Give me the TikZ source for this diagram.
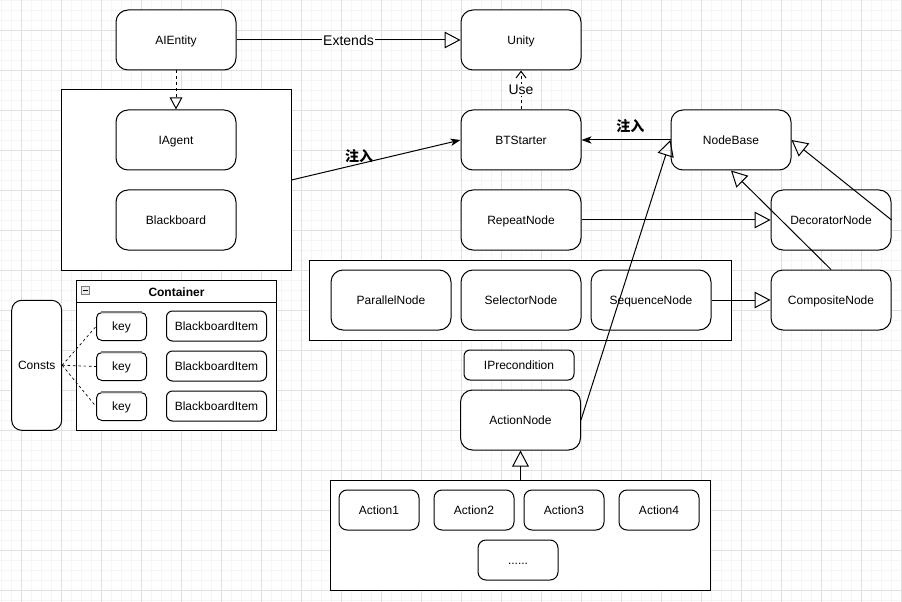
\documentclass[tikz,border=0pt]{standalone}
\usepackage{fontspec}
\setmainfont{Liberation Sans}
\newfontfamily\cjk{Noto Sans CJK SC}
\usetikzlibrary{arrows.meta}
\definecolor{gridminor}{HTML}{F5F5F5}
\definecolor{gridmajor}{HTML}{E0E0E0}
\begin{document}
\begin{tikzpicture}[x=0.75pt,y=-0.75pt,line width=0.75pt,
  every node/.style={font=\fontsize{9pt}{11pt}\selectfont},
  boxtext/.style={text height=6.5pt,text depth=0pt},
  box/.style={draw,fill=white,rounded corners=9pt,minimum width=90pt,minimum height=45pt,inner sep=0pt,boxtext},
  actbox/.style={draw,fill=white,rounded corners=6pt,minimum width=60pt,minimum height=30pt,inner sep=0pt,boxtext},
  itembox/.style={draw,fill=white,rounded corners=4.5pt,minimum width=75pt,minimum height=22.5pt,inner sep=0pt,boxtext},
  keybox/.style={draw,fill=white,rounded corners=4pt,minimum width=37.5pt,minimum height=21pt,inner sep=0pt,boxtext},
  group/.style={draw,fill=white,inner sep=0pt},
  inherit/.style={-{Triangle[open,length=12pt,width=12.5pt]}},
  inheritsmall/.style={-{Triangle[open,length=9pt,width=9.5pt]}},
  inject/.style={-{Stealth[length=7.5pt,width=5.5pt,inset=2pt]}},
  usearrow/.style={-{Straight Barb[length=5pt,width=7.5pt]}},
  dashthree/.style={dash pattern=on 2.25pt off 2.25pt},
  edgelabel/.style={font=\fontsize{10.5pt}{12pt}\selectfont,fill=white,inner sep=1pt},
  cjklabel/.style={font=\cjk\bfseries\fontsize{10.5pt}{12pt}\selectfont,inner sep=0pt},
]
\useasboundingbox (0,0) rectangle (902,602);

% background grid
\foreach \i in {0,...,90} \draw[gridminor] ({1.5+10*\i},0) -- ({1.5+10*\i},602);
\foreach \i in {0,...,60} \draw[gridminor] (0,{0.5+10*\i}) -- (902,{0.5+10*\i});
\foreach \i in {0,...,22} \draw[gridmajor] ({21.5+40*\i},0) -- ({21.5+40*\i},602);
\foreach \i in {0,...,14} \draw[gridmajor] (0,{30.5+40*\i}) -- (902,{30.5+40*\i});

% group frames
\node[group,minimum width=172.5pt,minimum height=135pt] (leftgroup) at (176,180) {};
\node[group,minimum width=316.5pt,minimum height=60pt] (compgroup) at (520,300) {};
\node[group,minimum width=285pt,minimum height=82.5pt] (actiongroup) at (520.5,535) {};

% top row
\node[box] (aientity) at (176,40) {AIEntity};
\node[box] (unity) at (521,40) {Unity};
\node[box] (btstarter) at (521,140) {BTStarter};
\node[box] (nodebase) at (731,140) {NodeBase};

% agent block
\node[box] (iagent) at (176,140) {IAgent};
\node[box] (blackboard) at (176,220) {Blackboard};

% behaviour tree nodes
\node[box] (repeat) at (521,220) {RepeatNode};
\node[box] (decorator) at (831,220) {DecoratorNode};
\node[box] (composite) at (831,300) {CompositeNode};
\node[box] (parallel) at (391,300) {ParallelNode};
\node[box] (selector) at (521,300) {SelectorNode};
\node[box] (sequence) at (651,300) {SequenceNode};
\node[draw,fill=white,rounded corners=4.5pt,minimum width=82.5pt,minimum height=22.5pt,inner sep=0pt,boxtext] (iprecondition) at (519,365) {IPrecondition};
\node[box] (actionnode) at (520.5,420) {ActionNode};

% actions
\node[actbox] (action1) at (379,510) {Action1};
\node[actbox] (action2) at (474,510) {Action2};
\node[actbox] (action3) at (564,510) {Action3};
\node[actbox] (action4) at (659,510) {Action4};
\node[actbox] (actionmore) at (518,560) {......};

% container of blackboard items
\node[group,minimum width=150pt,minimum height=112.5pt] (container) at (176.5,355) {};
\draw ([yshift=-17.25pt]container.north west) -- ([yshift=-17.25pt]container.north east);
\node[font=\bfseries\fontsize{9pt}{11pt}\selectfont,boxtext] (containertitle) at (176.5,292) {Container};
\node[draw=gray,fill=gray!15,minimum size=5.7pt,inner sep=0pt,line width=0.5pt] (collapse) at (85.5,290.5) {};
\draw[line width=0.6pt] ([xshift=1.2pt]collapse.west) -- ([xshift=-1.2pt]collapse.east);

\foreach \n/\y in {1/326.5,2/366.5,3/406.5}{
  \node[keybox] (key\n) at (121.5,\y) {key};
  \draw[gray,line width=1.2pt] ([xshift=4pt]key\n.north west) -- ([xshift=-4pt]key\n.north east);
}
\node[itembox] (item1) at (216.5,326) {BlackboardItem};
\node[itembox] (item2) at (216.5,366) {BlackboardItem};
\node[itembox] (item3) at (216.5,406) {BlackboardItem};

\node[draw,fill=white,rounded corners=7.5pt,minimum width=37.5pt,minimum height=97.5pt,inner sep=0pt,boxtext] (consts) at (36.7,365.3) {Consts};

% connectors
\draw[inherit] (aientity.east) -- node[edgelabel] {Extends} (unity.west);
\draw[usearrow,dashthree] (btstarter.north) -- node[edgelabel] {Use} (unity.south);
\draw[inheritsmall,dashthree] (aientity.south) -- (iagent.north);
\draw[inject] (leftgroup.east) -- node[cjklabel,pos=0.4,yshift=6pt] {注入} (btstarter.west);
\draw[inject] (nodebase.west) -- node[cjklabel,pos=0.45,yshift=10.5pt] {注入} (btstarter.east);
\draw[inherit] (repeat.east) -- (decorator.west);
\draw[inherit] (sequence.east) -- (composite.west);
\draw[inherit] (decorator.east) -- (nodebase.east);
\draw[inherit] (composite.north) -- (nodebase.south);
\draw[inherit] (actionnode.east) -- (nodebase.west);
\draw[inherit] (actiongroup.north) -- (actionnode.south);
\foreach \n in {1,2,3} \draw[line width=0.5pt,dash pattern=on 2pt off 2pt] (consts.east) -- (key\n.west);

\end{tikzpicture}
\end{document}
